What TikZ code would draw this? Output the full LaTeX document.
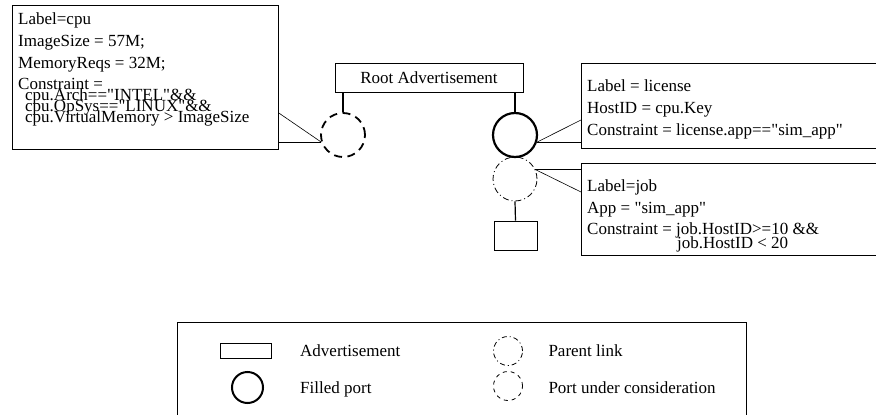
\documentclass[tikz,border=0pt]{standalone}
\usepackage{fontspec}
\setmainfont{Liberation Serif}[Ligatures=TeXOff]
\usetikzlibrary{positioning}

\begin{document}
\begin{tikzpicture}[x=1pt,y=-1pt]
	\tikzstyle{txt} = [font=\fontsize{17}{21.6}\selectfont,inner sep=0pt,align=left]
	\tikzstyle{adbox} = [draw,line width=0.8pt,inner sep=0pt]
	\tikzstyle{port} = [circle,draw,minimum size=44pt,inner sep=0pt]
	\tikzstyle{filledport} = [port,line width=2.2pt]
	\tikzstyle{considerport} = [port,line width=1.8pt,dash pattern=on 8pt off 5.5pt]
	\tikzstyle{parentport} = [port,line width=0.8pt,dash pattern=on 6pt off 3pt on 1pt off 3pt]
	\tikzstyle{link} = [line width=0.6pt]
	\tikzstyle{stem} = [line width=1.2pt]

	\clip (0,0) rectangle (876,415);

	\node[adbox,txt,minimum width=188pt,minimum height=29pt] (root) at (429,77.5) {Root Advertisement};
	\node[considerport] (cpuport) at (343,135) {};
	\node[filledport] (licport) at (515,135) {};
	\node[parentport] (jobport) at (515,179) {};
	\node[adbox,minimum width=43pt,minimum height=29pt] (appbox) at (515.5,235.5) {};

	\node[adbox,minimum width=266pt,minimum height=144pt,anchor=north west] (cpubox) at (12,5) {};
	\node[txt,anchor=base west] (cputext) at (18,122.7) {Label=cpu\\ImageSize = 57M;\\MemoryReqs = 32M;\\Constraint =\\[-10.6pt]\hspace*{7pt}cpu.Arch=="INTEL"\&\&\\[-10.6pt]\hspace*{7pt}cpu.OpSys=="LINUX"\&\&\\[-10.6pt]\hspace*{7pt}cpu.VirtualMemory > ImageSize};

	\node[adbox,minimum width=320pt,minimum height=85pt,anchor=north west] (licbox) at (581,63) {};
	\node[txt,anchor=base west] (lictext) at (587,135) {Label = license\\HostID = cpu.Key\\Constraint = license.app=="sim\_app"};

	\node[adbox,minimum width=320pt,minimum height=92pt,anchor=north west] (jobbox) at (581,163) {};
	\node[txt,anchor=base west] (jobtext) at (587,248.5) {Label=job\\App = "sim\_app"\\Constraint = job.HostID>=10 \&\&\\[-8pt]\hphantom{Constraint = }\hspace*{1pt}job.HostID < 20};

	\draw[stem] (cpuport.north |- root.south) -- (cpuport.north);
	\draw[stem] (licport.north |- root.south) -- (licport.north);
	\draw[stem] (jobport.south) -- (appbox.north);

	\draw[link] ([yshift=-108pt]cpubox.north east) -- (cpuport.198);
	\draw[link] (cpubox.east |- cpuport.198) -- (cpuport.198);
	\draw[link] ([yshift=-57pt]licbox.north west) -- (licport.-18);
	\draw[link] (licbox.west |- licport.-18) -- (licport.-18);
	\draw[link] (jobbox.west |- jobport.25) -- (jobport.25);
	\draw[link] ([yshift=-29pt]jobbox.north west) -- (jobport.25);

	\node[adbox,minimum width=569pt,minimum height=110pt,anchor=north west] (legend) at (177,322) {};
	\node[adbox,minimum width=51pt,minimum height=15pt] (advsym) at (245.5,350.8) {};
	\node[txt,anchor=base west] (advtxt) at (300,356.7) {Advertisement};
	\node[filledport,minimum size=31pt,line width=2pt] (fillsym) at (247.5,387.5) {};
	\node[txt,anchor=base west] (filltxt) at (300,393.3) {Filled port};
	\node[parentport,minimum size=29pt,dash pattern=on 5pt off 3pt on 1pt off 3pt] (parsym) at (508,351) {};
	\node[txt,anchor=base west] (partxt) at (548.3,356.7) {Parent link};
	\node[considerport,minimum size=29pt,line width=0.8pt,dash pattern=on 4pt off 4pt] (consym) at (508,386) {};
	\node[txt,anchor=base west] (contxt) at (548.3,393.3) {Port under consideration};
\end{tikzpicture}
\end{document}
